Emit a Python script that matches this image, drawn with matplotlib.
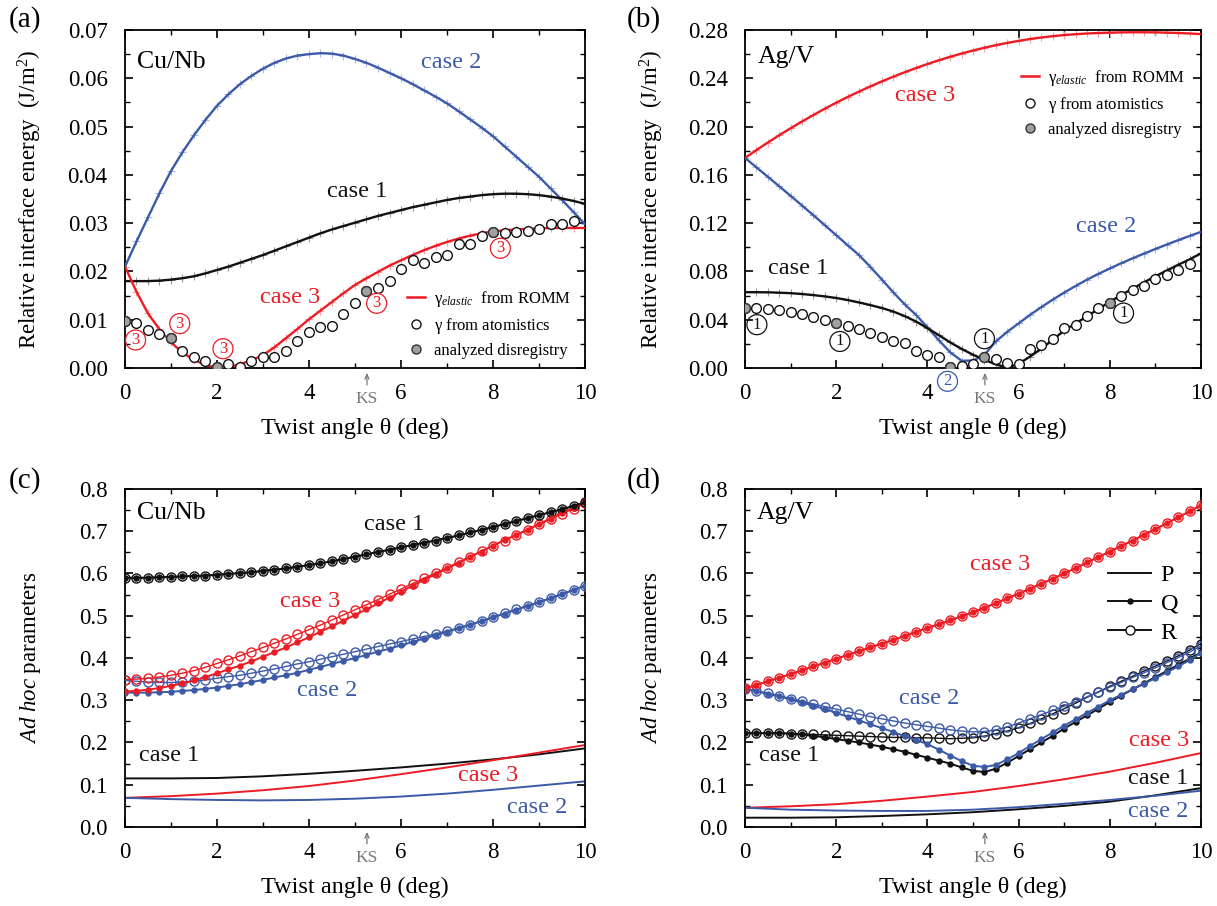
import numpy as np
import matplotlib
matplotlib.use("Agg")
import matplotlib.pyplot as plt
from matplotlib.lines import Line2D
from matplotlib.ticker import MultipleLocator, FormatStrFormatter

plt.rcParams["font.family"] = ["Liberation Serif", "DejaVu Serif"]
plt.rcParams["mathtext.fontset"] = "custom"
plt.rcParams["mathtext.rm"] = "Liberation Serif"
plt.rcParams["mathtext.it"] = "Liberation Serif:italic"

RED = "#ec1c24"
BLUE = "#3c5aa8"
BLACK = "#111111"
GRAY = "#a0a0a0"

# -----------------------------
# 1. Data
# -----------------------------

# twist angle grids (deg)
theta = np.linspace(0, 10, 41)        # model curves, every 0.25 deg
theta_atom = np.linspace(0, 9.75, 40)  # atomistic points
theta_p = np.linspace(0, 10, 11)       # P curves
ks_angle = 5.26

# (a) Cu/Nb, relative interface energy (J/m^2)
cunb_case1 = [0.0180, 0.0180, 0.0180, 0.0181, 0.0183, 0.0186, 0.0190, 0.0196, 0.0203, 0.0210,
              0.0218, 0.0226, 0.0234, 0.0243, 0.0252, 0.0261, 0.0270, 0.0279, 0.0287, 0.0294,
              0.0301, 0.0308, 0.0315, 0.0321, 0.0327, 0.0333, 0.0338, 0.0343, 0.0348, 0.0352,
              0.0355, 0.0358, 0.0360, 0.0361, 0.0361, 0.0360, 0.0358, 0.0355, 0.0351, 0.0346,
              0.0340]
cunb_case2 = [0.0210, 0.0262, 0.0312, 0.0362, 0.0408, 0.0447, 0.0482, 0.0514, 0.0543, 0.0567,
              0.0588, 0.0605, 0.0620, 0.0632, 0.0641, 0.0647, 0.0650, 0.0652, 0.0651, 0.0647,
              0.0640, 0.0632, 0.0622, 0.0611, 0.0600, 0.0588, 0.0575, 0.0562, 0.0548, 0.0532,
              0.0515, 0.0498, 0.0480, 0.0459, 0.0438, 0.0417, 0.0396, 0.0372, 0.0348, 0.0323,
              0.0298]
cunb_case3 = [0.0210, 0.0158, 0.0113, 0.0080, 0.0053, 0.0032, 0.0017, 0.0006, 0.0001, 0.0002,
              0.0008, 0.0016, 0.0027, 0.0043, 0.0062, 0.0081, 0.0101, 0.0119, 0.0137, 0.0155,
              0.0172, 0.0186, 0.0199, 0.0212, 0.0223, 0.0234, 0.0244, 0.0253, 0.0261, 0.0268,
              0.0274, 0.0279, 0.0283, 0.0285, 0.0287, 0.0288, 0.0289, 0.0290, 0.0290, 0.0290,
              0.0290]
cunb_atom = [0.0098, 0.0093, 0.0079, 0.0070, 0.0063, 0.0036, 0.0023, 0.0014, 0.0003, 0.0009,
             0.0002, 0.0014, 0.0022, 0.0022, 0.0036, 0.0056, 0.0075, 0.0084, 0.0088, 0.0111,
             0.0134, 0.0159, 0.0166, 0.0180, 0.0206, 0.0223, 0.0218, 0.0230, 0.0235, 0.0256,
             0.0256, 0.0273, 0.0281, 0.0279, 0.0281, 0.0283, 0.0288, 0.0299, 0.0298, 0.0304]
cunb_gray_idx = [0, 4, 8, 21, 32]
cunb_tags_x = [0.23, 1.19, 2.13, 5.47, 8.16]
cunb_tags_y = [0.0058, 0.0092, 0.0040, 0.0134, 0.0248]

# (b) Ag/V, relative interface energy (J/m^2)
agv_case1 = [0.0628, 0.0628, 0.0627, 0.0624, 0.0620, 0.0613, 0.0604, 0.0593, 0.0580, 0.0563,
             0.0543, 0.0521, 0.0497, 0.0468, 0.0430, 0.0385, 0.0330, 0.0272, 0.0212, 0.0158,
             0.0110, 0.0068, 0.0030, 0.0003, 0.0035, 0.0095, 0.0160, 0.0235, 0.0310, 0.0370,
             0.0428, 0.0490, 0.0548, 0.0605, 0.0658, 0.0710, 0.0760, 0.0808, 0.0855, 0.0900,
             0.0950]
agv_case2 = [0.1740, 0.1662, 0.1584, 0.1505, 0.1426, 0.1346, 0.1265, 0.1183, 0.1100, 0.1017,
             0.0935, 0.0837, 0.0733, 0.0627, 0.0528, 0.0440, 0.0337, 0.0230, 0.0130, 0.0060,
             0.0062, 0.0110, 0.0220, 0.0300, 0.0370, 0.0440, 0.0505, 0.0567, 0.0625, 0.0680,
             0.0732, 0.0780, 0.0825, 0.0868, 0.0909, 0.0948, 0.0986, 0.1023, 0.1059, 0.1094,
             0.1128]
agv_case3 = [0.1740, 0.1805, 0.1868, 0.1928, 0.1986, 0.2042, 0.2096, 0.2148, 0.2198, 0.2245,
             0.2290, 0.2333, 0.2374, 0.2413, 0.2450, 0.2485, 0.2518, 0.2549, 0.2578, 0.2605,
             0.2630, 0.2653, 0.2674, 0.2693, 0.2710, 0.2725, 0.2738, 0.2749, 0.2758, 0.2765,
             0.2771, 0.2775, 0.2778, 0.2780, 0.2781, 0.2781, 0.2780, 0.2778, 0.2775, 0.2771,
             0.2766]
agv_atom = [0.0497, 0.0497, 0.0488, 0.0477, 0.0463, 0.0450, 0.0419, 0.0400, 0.0370, 0.0350,
            0.0323, 0.0290, 0.0257, 0.0220, 0.0204, 0.0143, 0.0110, 0.0091, 0.0006, 0.0017,
            0.0033, 0.0091, 0.0077, 0.0044, 0.0036, 0.0160, 0.0193, 0.0243, 0.0330, 0.0359,
            0.0433, 0.0497, 0.0538, 0.0600, 0.0648, 0.0681, 0.0739, 0.0772, 0.0814, 0.0860]
agv_gray_idx = [0, 8, 18, 21, 32]
agv_tags_x = [0.26, 2.08, 5.25, 8.30]
agv_tags_y = [0.0359, 0.0220, 0.0243, 0.0455]

# (c) Cu/Nb, ad hoc parameters P, Q, R
cunb_p1 = [0.115, 0.115, 0.116, 0.120, 0.126, 0.133, 0.141, 0.150, 0.160, 0.172, 0.186]
cunb_p2 = [0.069, 0.066, 0.064, 0.063, 0.064, 0.067, 0.072, 0.079, 0.088, 0.098, 0.108]
cunb_p3 = [0.069, 0.073, 0.079, 0.087, 0.097, 0.110, 0.125, 0.141, 0.158, 0.176, 0.194]
cunb_q1 = [0.590, 0.590, 0.590, 0.591, 0.592, 0.593, 0.594, 0.595, 0.597, 0.599,
           0.601, 0.603, 0.606, 0.609, 0.612, 0.616, 0.620, 0.624, 0.629, 0.634,
           0.640, 0.645, 0.651, 0.656, 0.662, 0.667, 0.673, 0.678, 0.684, 0.690,
           0.697, 0.703, 0.710, 0.717, 0.724, 0.731, 0.738, 0.745, 0.752, 0.760,
           0.768]
cunb_r1 = [0.590, 0.590, 0.590, 0.591, 0.592, 0.593, 0.594, 0.595, 0.597, 0.599,
           0.601, 0.603, 0.606, 0.609, 0.612, 0.616, 0.620, 0.624, 0.629, 0.634,
           0.640, 0.645, 0.651, 0.656, 0.662, 0.667, 0.673, 0.678, 0.684, 0.690,
           0.697, 0.703, 0.710, 0.717, 0.724, 0.731, 0.738, 0.745, 0.752, 0.760,
           0.768]
cunb_q2 = [0.318, 0.318, 0.318, 0.319, 0.320, 0.322, 0.324, 0.327, 0.330, 0.334,
           0.338, 0.343, 0.348, 0.354, 0.359, 0.365, 0.372, 0.379, 0.386, 0.393,
           0.400, 0.407, 0.415, 0.422, 0.430, 0.438, 0.446, 0.454, 0.462, 0.470,
           0.479, 0.487, 0.496, 0.505, 0.514, 0.523, 0.532, 0.541, 0.551, 0.561,
           0.571]
cunb_r2 = [0.347, 0.345, 0.343, 0.342, 0.342, 0.343, 0.345, 0.348, 0.352, 0.356,
           0.359, 0.364, 0.369, 0.374, 0.380, 0.386, 0.391, 0.397, 0.403, 0.409,
           0.415, 0.421, 0.427, 0.433, 0.439, 0.445, 0.451, 0.457, 0.464, 0.471,
           0.479, 0.487, 0.497, 0.506, 0.515, 0.524, 0.533, 0.542, 0.552, 0.561,
           0.571]
cunb_q3 = [0.321, 0.322, 0.325, 0.329, 0.334, 0.340, 0.347, 0.355, 0.364, 0.373,
           0.382, 0.392, 0.403, 0.414, 0.425, 0.437, 0.449, 0.462, 0.475, 0.488,
           0.502, 0.515, 0.529, 0.543, 0.557, 0.571, 0.585, 0.598, 0.612, 0.625,
           0.639, 0.652, 0.666, 0.679, 0.691, 0.704, 0.717, 0.730, 0.743, 0.756,
           0.770]
cunb_r3 = [0.349, 0.350, 0.352, 0.355, 0.359, 0.364, 0.370, 0.378, 0.387, 0.396,
           0.405, 0.415, 0.425, 0.435, 0.445, 0.456, 0.467, 0.478, 0.490, 0.502,
           0.514, 0.526, 0.538, 0.551, 0.563, 0.576, 0.589, 0.601, 0.614, 0.627,
           0.640, 0.653, 0.666, 0.678, 0.691, 0.703, 0.716, 0.728, 0.741, 0.753,
           0.766]

# (d) Ag/V, ad hoc parameters P, Q, R
agv_p1 = [0.022, 0.022, 0.023, 0.026, 0.030, 0.035, 0.042, 0.050, 0.060, 0.075, 0.092]
agv_p2 = [0.0456, 0.041, 0.039, 0.038, 0.038, 0.041, 0.047, 0.055, 0.064, 0.074, 0.086]
agv_p3 = [0.0456, 0.049, 0.054, 0.062, 0.072, 0.083, 0.097, 0.113, 0.131, 0.152, 0.175]
agv_q1 = [0.222, 0.222, 0.222, 0.222, 0.221, 0.219, 0.216, 0.212, 0.208, 0.204,
          0.200, 0.195, 0.190, 0.184, 0.178, 0.171, 0.164, 0.157, 0.150, 0.141,
          0.133, 0.130, 0.138, 0.152, 0.168, 0.184, 0.200, 0.216, 0.233, 0.249,
          0.264, 0.280, 0.296, 0.311, 0.326, 0.340, 0.355, 0.369, 0.384, 0.398,
          0.413]
agv_r1 = [0.222, 0.222, 0.222, 0.222, 0.221, 0.220, 0.219, 0.218, 0.217, 0.216,
          0.215, 0.214, 0.213, 0.212, 0.212, 0.211, 0.211, 0.210, 0.209, 0.210,
          0.211, 0.215, 0.221, 0.227, 0.235, 0.245, 0.256, 0.268, 0.280, 0.293,
          0.307, 0.320, 0.333, 0.345, 0.357, 0.369, 0.381, 0.393, 0.405, 0.419,
          0.434]
agv_q2 = [0.327, 0.321, 0.315, 0.309, 0.302, 0.295, 0.287, 0.279, 0.270, 0.261,
          0.252, 0.243, 0.234, 0.225, 0.215, 0.206, 0.196, 0.183, 0.169, 0.156,
          0.145, 0.142, 0.147, 0.160, 0.175, 0.192, 0.208, 0.224, 0.240, 0.255,
          0.270, 0.285, 0.300, 0.313, 0.326, 0.339, 0.352, 0.366, 0.380, 0.395,
          0.412]
agv_r2 = [0.327, 0.322, 0.317, 0.311, 0.304, 0.298, 0.291, 0.285, 0.279, 0.273,
          0.267, 0.261, 0.256, 0.251, 0.246, 0.242, 0.238, 0.234, 0.230, 0.227,
          0.225, 0.226, 0.230, 0.237, 0.246, 0.256, 0.266, 0.276, 0.286, 0.297,
          0.308, 0.319, 0.331, 0.342, 0.354, 0.365, 0.377, 0.389, 0.401, 0.414,
          0.428]
agv_q3 = [0.328, 0.336, 0.345, 0.353, 0.362, 0.371, 0.380, 0.389, 0.398, 0.407,
          0.416, 0.425, 0.434, 0.443, 0.452, 0.462, 0.471, 0.480, 0.489, 0.499,
          0.508, 0.519, 0.530, 0.541, 0.552, 0.564, 0.576, 0.588, 0.600, 0.613,
          0.626, 0.639, 0.652, 0.665, 0.678, 0.692, 0.705, 0.719, 0.733, 0.747,
          0.762]
agv_r3 = agv_q3


# -----------------------------
# 2. Helpers
# -----------------------------

def style_axes(ax, ymax, ymajor, yminor, yfmt):
    ax.set_xlim(0, 10)
    ax.set_ylim(0, ymax)
    ax.xaxis.set_major_locator(MultipleLocator(2))
    ax.xaxis.set_minor_locator(MultipleLocator(1))
    ax.yaxis.set_major_locator(MultipleLocator(ymajor))
    ax.yaxis.set_minor_locator(MultipleLocator(yminor))
    ax.yaxis.set_major_formatter(FormatStrFormatter(yfmt))
    ax.tick_params(which="both", direction="in", top=True, right=True, labelsize=16.5)
    ax.tick_params(which="major", length=6, width=1.2)
    ax.tick_params(which="minor", length=3.5, width=1.0)
    ax.tick_params(axis="y", pad=12.5)
    ax.tick_params(axis="x", pad=10.5)
    for sp in ax.spines.values():
        sp.set_linewidth(1.3)
    ax.set_xlabel("Twist angle θ (deg)", fontsize=17.5)
    ax.xaxis.set_label_coords(0.5, -0.148)


def ks_mark(ax):
    ax.annotate("", xy=(ks_angle, -0.006), xycoords=("data", "axes fraction"),
                xytext=(ks_angle, -0.058), textcoords=("data", "axes fraction"),
                arrowprops=dict(arrowstyle="->,head_length=0.35,head_width=0.15",
                                color="#777777", lw=0.9))
    ax.text(ks_angle, -0.093, "KS", transform=ax.get_xaxis_transform(),
            ha="center", va="center", fontsize=12.5, color="#777777")


def energy_curve(ax, y, color, light):
    ax.plot(theta, y, ls="none", marker="+", ms=6, mew=0.8, mec=light, zorder=2)
    ax.plot(theta, y, color=color, lw=1.7, zorder=3)


def tag(ax, x, y, s, color):
    ax.text(x, y, s, color=color, fontsize=12, ha="center", va="center",
            bbox=dict(boxstyle="circle,pad=0.12", fc="none", ec=color, lw=0.9),
            zorder=5)


def atom_points(ax, y, gray_idx):
    ax.plot(theta_atom, y, ls="none", marker="o", ms=7, mfc="white", mec=BLACK,
            mew=1.0, zorder=4)
    ax.plot(theta_atom[gray_idx], np.array(y)[gray_idx], ls="none", marker="o",
            ms=7, mfc=GRAY, mec="#333333", mew=1.0, zorder=4)


def energy_legend(ax, x0, y0):
    handles = [
        Line2D([], [], color=RED, lw=1.8),
        Line2D([], [], ls="none", marker="o", ms=6.5, mfc="white", mec=BLACK, mew=1.0),
        Line2D([], [], ls="none", marker="o", ms=6.5, mfc=GRAY, mec="#333333", mew=1.0),
    ]
    labels = [r"$\mathrm{\gamma}_{\mathit{elastic}}$  from ROMM",
              r"$\mathrm{\gamma}$ from atomistics", "analyzed disregistry"]
    ax.legend(handles, labels, loc="upper left", bbox_to_anchor=(x0, y0),
              frameon=False, fontsize=12, handlelength=1.1, handletextpad=0.55,
              labelspacing=0.42, borderpad=0, borderaxespad=0)


def qr_curves(ax, q, r, color):
    ax.plot(theta, r, color=color, lw=1.0, marker="o", ms=6.5, mfc="none",
            mec=color, mew=1.0, zorder=3)
    ax.plot(theta, q, color=color, lw=1.4, marker="o", ms=3.6, mfc=color,
            mec=color, zorder=4)


fig = plt.figure(figsize=(12.17, 9.06), dpi=100)

ax_a = fig.add_axes([0.1027, 0.5938, 0.3780, 0.3731])
ax_b = fig.add_axes([0.6122, 0.5938, 0.3747, 0.3731])
ax_c = fig.add_axes([0.1027, 0.0872, 0.3780, 0.3731])
ax_d = fig.add_axes([0.6122, 0.0872, 0.3747, 0.3731])

CASE_FS = 17.5


# -----------------------------
# 3. (a) Cu/Nb energies
# -----------------------------

style_axes(ax_a, 0.07, 0.01, 0.005, "%.2f")
energy_curve(ax_a, cunb_case2, BLUE, "#a9b9e2")
energy_curve(ax_a, cunb_case1, BLACK, "#9a9a9a")
energy_curve(ax_a, cunb_case3, RED, "#f5a3a6")
atom_points(ax_a, cunb_atom, cunb_gray_idx)
for x, y in zip(cunb_tags_x, cunb_tags_y):
    tag(ax_a, x, y, "3", RED)
ax_a.text(0.26, 0.0633, "Cu/Nb", fontsize=18.5, va="center", ha="left")
ax_a.text(7.09, 0.0633, "case 2", fontsize=CASE_FS, color=BLUE, ha="center", va="center")
ax_a.text(5.04, 0.0366, "case 1", fontsize=CASE_FS, color=BLACK, ha="center", va="center")
ax_a.text(3.59, 0.0146, "case 3", fontsize=CASE_FS, color=RED, ha="center", va="center")
energy_legend(ax_a, 0.612, 0.233)
ks_mark(ax_a)
ax_a.set_ylabel("Relative interface energy  (J/m$^2$)", fontsize=16.5)
ax_a.yaxis.set_label_coords(-0.175, 0.5)


# -----------------------------
# 4. (b) Ag/V energies
# -----------------------------

style_axes(ax_b, 0.28, 0.04, 0.02, "%.2f")
energy_curve(ax_b, agv_case3, RED, "#f5a3a6")
energy_curve(ax_b, agv_case2, BLUE, "#a9b9e2")
energy_curve(ax_b, agv_case1, BLACK, "#9a9a9a")
atom_points(ax_b, agv_atom, agv_gray_idx)
for x, y in zip(agv_tags_x, agv_tags_y):
    tag(ax_b, x, y, "1", BLACK)
tag(ax_b, 4.44, -0.011, "2", BLUE)
ax_b.text(0.28, 0.258, "Ag/V", fontsize=18.5, va="center", ha="left")
ax_b.text(3.95, 0.226, "case 3", fontsize=CASE_FS, color=RED, ha="center", va="center")
ax_b.text(7.92, 0.117, "case 2", fontsize=CASE_FS, color=BLUE, ha="center", va="center")
ax_b.text(1.17, 0.0828, "case 1", fontsize=CASE_FS, color=BLACK, ha="center", va="center")
energy_legend(ax_b, 0.605, 0.888)
ks_mark(ax_b)
ax_b.set_ylabel("Relative interface energy  (J/m$^2$)", fontsize=16.5)
ax_b.yaxis.set_label_coords(-0.173, 0.5)


# -----------------------------
# 5. (c) Cu/Nb ad hoc parameters
# -----------------------------

style_axes(ax_c, 0.8, 0.1, 0.05, "%.1f")
ax_c.plot(theta_p, cunb_p1, color=BLACK, lw=1.4)
ax_c.plot(theta_p, cunb_p3, color=RED, lw=1.4)
ax_c.plot(theta_p, cunb_p2, color=BLUE, lw=1.4)
qr_curves(ax_c, cunb_q2, cunb_r2, BLUE)
qr_curves(ax_c, cunb_q3, cunb_r3, RED)
qr_curves(ax_c, cunb_q1, cunb_r1, BLACK)
ax_c.text(0.26, 0.744, "Cu/Nb", fontsize=18.5, va="center", ha="left")
ax_c.text(5.84, 0.715, "case 1", fontsize=CASE_FS, color=BLACK, ha="center", va="center")
ax_c.text(4.02, 0.533, "case 3", fontsize=CASE_FS, color=RED, ha="center", va="center")
ax_c.text(4.39, 0.324, "case 2", fontsize=CASE_FS, color=BLUE, ha="center", va="center")
ax_c.text(0.96, 0.170, "case 1", fontsize=CASE_FS, color=BLACK, ha="center", va="center")
ax_c.text(7.90, 0.122, "case 3", fontsize=CASE_FS, color=RED, ha="center", va="center")
ax_c.text(8.97, 0.045, "case 2", fontsize=CASE_FS, color=BLUE, ha="center", va="center")
ks_mark(ax_c)
ax_c.set_ylabel(r"$\mathit{Ad\ hoc}$ parameters", fontsize=16.5)
ax_c.yaxis.set_label_coords(-0.178, 0.5)


# -----------------------------
# 6. (d) Ag/V ad hoc parameters
# -----------------------------

style_axes(ax_d, 0.8, 0.1, 0.05, "%.1f")
ax_d.plot(theta_p, agv_p3, color=RED, lw=1.4)
ax_d.plot(theta_p, agv_p1, color=BLACK, lw=1.4)
ax_d.plot(theta_p, agv_p2, color=BLUE, lw=1.4)
qr_curves(ax_d, agv_q1, agv_r1, BLACK)
qr_curves(ax_d, agv_q2, agv_r2, BLUE)
qr_curves(ax_d, agv_q3, agv_r3, RED)
ax_d.text(0.26, 0.742, "Ag/V", fontsize=18.5, va="center", ha="left")
ax_d.text(5.59, 0.622, "case 3", fontsize=CASE_FS, color=RED, ha="center", va="center")
ax_d.text(4.04, 0.304, "case 2", fontsize=CASE_FS, color=BLUE, ha="center", va="center")
ax_d.text(0.96, 0.170, "case 1", fontsize=CASE_FS, color=BLACK, ha="center", va="center")
ax_d.text(9.07, 0.205, "case 3", fontsize=CASE_FS, color=RED, ha="center", va="center")
ax_d.text(9.05, 0.115, "case 1", fontsize=CASE_FS, color=BLACK, ha="center", va="center")
ax_d.text(9.07, 0.0355, "case 2", fontsize=CASE_FS, color=BLUE, ha="center", va="center")
pqr_handles = [
    Line2D([], [], color=BLACK, lw=1.4),
    Line2D([], [], color=BLACK, lw=1.4, marker="o", ms=3.6),
    Line2D([], [], color=BLACK, lw=1.4, marker="o", ms=6.5, mfc="white", mew=1.0),
]
ax_d.legend(pqr_handles, ["P", "Q", "R"], loc="upper left", bbox_to_anchor=(0.797, 0.778),
            frameon=False, fontsize=17.5, handlelength=1.75, handletextpad=0.4,
            labelspacing=0.28, borderpad=0, borderaxespad=0, numpoints=1)
ks_mark(ax_d)
ax_d.set_ylabel(r"$\mathit{Ad\ hoc}$ parameters", fontsize=16.5)
ax_d.yaxis.set_label_coords(-0.178, 0.5)


# -----------------------------
# 7. Panel letters and save
# -----------------------------

fig.text(0.007, 0.978, "(a)", fontsize=21, va="center", ha="left")
fig.text(0.515, 0.978, "(b)", fontsize=21, va="center", ha="left")
fig.text(0.007, 0.470, "(c)", fontsize=21, va="center", ha="left")
fig.text(0.515, 0.470, "(d)", fontsize=21, va="center", ha="left")

fig.savefig("out.png", dpi=100)
